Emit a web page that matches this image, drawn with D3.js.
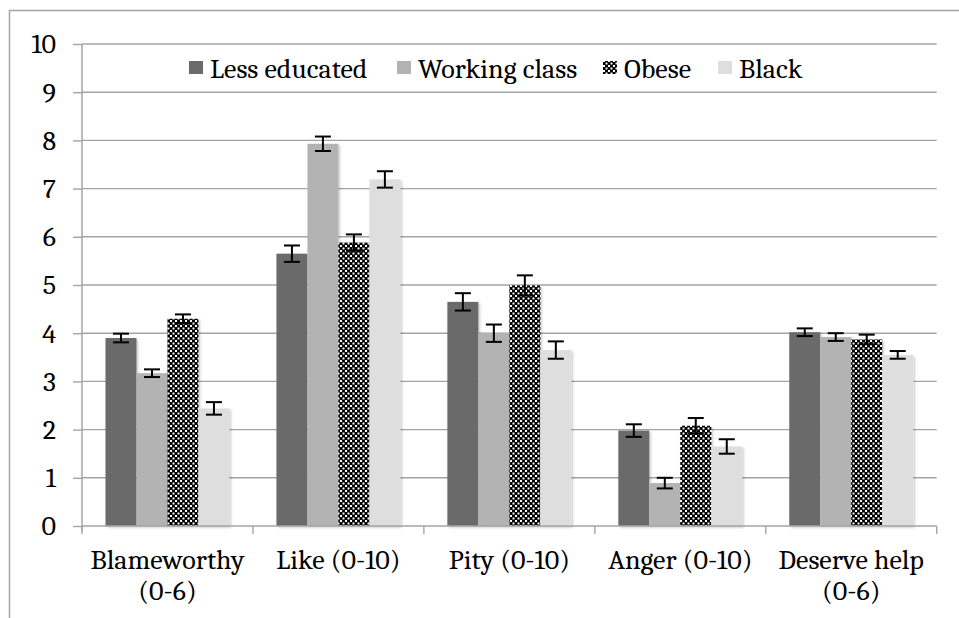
<!DOCTYPE html>
<html>
<head>
<meta charset="utf-8">
<script src="https://cdn.jsdelivr.net/npm/d3@7"></script>
<style>
  html, body { margin: 0; padding: 0; background: #fff; }
</style>
</head>
<body>
<div class="canvas"></div>
<script>
// chart size and margins
const width = 959;
const height = 618;
const marginTop = 44;
const marginLeft = 82;
const plotRight = 936.7;
const plotBottom = 526;
const fontFamily = "Cambria, Caladea, serif";
const fontSize = 28;

// categories (each label may wrap to two lines)
const categories = ["Blameworthy (0-6)", "Like (0-10)", "Pity (0-10)", "Anger (0-10)", "Deserve help (0-6)"];
const categoryLines = [["Blameworthy", "(0-6)"], ["Like (0-10)"], ["Pity (0-10)"], ["Anger (0-10)"], ["Deserve help", "(0-6)"]];

// series
const groups = ["Less educated", "Working class", "Obese", "Black"];
const lessEducated = [3.9, 5.65, 4.65, 1.98, 4.02];
const workingClass = [3.17, 7.93, 4.0, 0.89, 3.92];
const obese = [4.3, 5.88, 4.99, 2.08, 3.87];
const black = [2.44, 7.19, 3.65, 1.65, 3.55];

// error bar half-widths
const errLessEducated = [0.09, 0.17, 0.18, 0.13, 0.08];
const errWorkingClass = [0.08, 0.15, 0.18, 0.11, 0.08];
const errObese = [0.09, 0.17, 0.21, 0.16, 0.1];
const errBlack = [0.13, 0.17, 0.18, 0.15, 0.08];

const yTicks = [0, 1, 2, 3, 4, 5, 6, 7, 8, 9, 10];

const seriesValues = [lessEducated, workingClass, obese, black];
const seriesErrors = [errLessEducated, errWorkingClass, errObese, errBlack];
const fills = ["#6b6b6b", "#b3b3b3", "url(#checker)", "#dedede"];
const gridColor = "#a4a4a4";

// flatten into rows for binding
const rows = [];
categories.forEach((c, i) => {
  groups.forEach((g, j) => {
    rows.push({ cat: c, group: g, value: seriesValues[j][i], err: seriesErrors[j][i] });
  });
});

const svg = d3.select(".canvas").append("svg")
  .attr("width", width)
  .attr("height", height);

const defs = svg.append("defs");

// checker pattern for the "Obese" bars
const pat = defs.append("pattern")
  .attr("id", "checker")
  .attr("patternUnits", "userSpaceOnUse")
  .attr("width", 5)
  .attr("height", 5);
pat.append("rect").attr("width", 5).attr("height", 5).attr("fill", "#000");
pat.append("rect").attr("x", 0).attr("y", 0).attr("width", 2).attr("height", 2).attr("fill", "#fff");
pat.append("rect").attr("x", 2.5).attr("y", 2.5).attr("width", 2).attr("height", 2).attr("fill", "#fff");

// soft shadow under the bars
const shadow = defs.append("filter")
  .attr("id", "shadow")
  .attr("x", "-20%").attr("y", "-5%")
  .attr("width", "150%").attr("height", "115%");
shadow.append("feDropShadow")
  .attr("dx", 1.5).attr("dy", 1.5)
  .attr("stdDeviation", 1.2)
  .attr("flood-color", "#000")
  .attr("flood-opacity", 0.22);

// outer frame
svg.append("rect")
  .attr("x", 9.5).attr("y", 10.5)
  .attr("width", width + 10).attr("height", height + 10)
  .attr("fill", "none")
  .attr("stroke", gridColor)
  .attr("stroke-width", 1.5);

// scales
const x0 = d3.scaleBand()
  .domain(categories)
  .range([marginLeft, plotRight])
  .paddingInner(0)
  .paddingOuter(0);

const x1 = d3.scaleBand()
  .domain(groups)
  .range([23.5, x0.bandwidth() - 23.5]);

const y = d3.scaleLinear()
  .domain([0, 10])
  .range([plotBottom, marginTop]);

// horizontal grid
svg.append("g")
  .selectAll("line")
  .data(yTicks.slice(1))
  .join("line")
    .attr("x1", marginLeft)
    .attr("x2", plotRight)
    .attr("y1", d => y(d))
    .attr("y2", d => y(d))
    .attr("stroke", gridColor)
    .attr("stroke-width", 1.4);

// bars
svg.append("g")
  .attr("filter", "url(#shadow)")
  .selectAll("rect")
  .data(rows)
  .join("rect")
    .attr("x", d => x0(d.cat) + x1(d.group))
    .attr("y", d => y(d.value))
    .attr("width", x1.bandwidth())
    .attr("height", d => y(0) - y(d.value))
    .attr("fill", d => fills[groups.indexOf(d.group)]);

// error bars
const capW = 8;
const eb = svg.append("g")
  .attr("stroke", "#000")
  .attr("stroke-width", 2)
  .selectAll("g")
  .data(rows)
  .join("g")
    .attr("transform", d => `translate(${x0(d.cat) + x1(d.group) + x1.bandwidth() / 2},0)`);
eb.append("line")
  .attr("y1", d => y(d.value + d.err))
  .attr("y2", d => y(d.value - d.err));
eb.append("line")
  .attr("x1", -capW).attr("x2", capW)
  .attr("y1", d => y(d.value + d.err))
  .attr("y2", d => y(d.value + d.err));
eb.append("line")
  .attr("x1", -capW).attr("x2", capW)
  .attr("y1", d => y(d.value - d.err))
  .attr("y2", d => y(d.value - d.err));

// y axis
const yAxis = d3.axisLeft(y)
  .tickValues(yTicks)
  .tickSize(9)
  .tickPadding(17)
  .tickFormat(d3.format("d"));

const gy = svg.append("g")
  .attr("transform", `translate(${marginLeft},0)`)
  .call(yAxis)
  .attr("font-family", fontFamily)
  .attr("font-size", fontSize);
gy.select(".domain").attr("stroke", gridColor).attr("stroke-width", 1.5)
  .attr("d", `M0,${marginTop}V${plotBottom + 5}`);
gy.selectAll(".tick line").attr("stroke", gridColor).attr("stroke-width", 1.4);
gy.selectAll(".tick text")
  .attr("fill", "#000")
  .attr("dy", "0.32em");

// x axis with ticks at category boundaries
const gx = svg.append("g")
  .attr("font-family", fontFamily)
  .attr("font-size", fontSize);
gx.append("line")
  .attr("x1", marginLeft).attr("x2", plotRight)
  .attr("y1", plotBottom).attr("y2", plotBottom)
  .attr("stroke", gridColor).attr("stroke-width", 1.5);
gx.selectAll(".bound")
  .data(categories.concat(["end"]))
  .join("line")
    .attr("class", "bound")
    .attr("x1", (d, i) => i < categories.length ? x0(d) : plotRight)
    .attr("x2", (d, i) => i < categories.length ? x0(d) : plotRight)
    .attr("y1", plotBottom)
    .attr("y2", plotBottom + 8)
    .attr("stroke", gridColor).attr("stroke-width", 1.4);

// category labels
const labels = gx.selectAll(".cat")
  .data(categories)
  .join("text")
    .attr("class", "cat")
    .attr("x", d => x0(d) + x0.bandwidth() / 2)
    .attr("y", 569)
    .attr("text-anchor", "middle");
labels.selectAll("tspan")
  .data((d, i) => categoryLines[i])
  .join("tspan")
    .attr("x", function () { return this.parentNode.getAttribute("x"); })
    .attr("dy", (d, i) => i === 0 ? 0 : 31)
    .text(d => d);

// legend
const legendX = [189, 397, 603, 718];
const legend = svg.append("g")
  .attr("font-family", fontFamily)
  .attr("font-size", fontSize)
  .selectAll("g")
  .data(groups)
  .join("g")
    .attr("transform", (d, i) => `translate(${legendX[i]},0)`);
legend.append("rect")
  .attr("y", 61)
  .attr("width", 14)
  .attr("height", 13)
  .attr("fill", (d, i) => fills[i]);
legend.append("text")
  .attr("x", 21)
  .attr("y", 78)
  .text(d => d);
</script>
</body>
</html>
